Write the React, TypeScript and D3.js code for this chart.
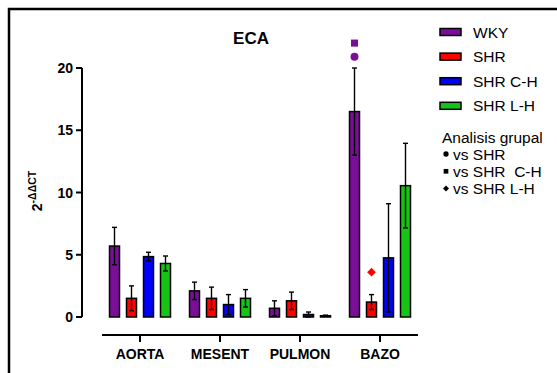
import React from "react"
import * as d3 from "d3"

const categories = ["AORTA", "MESENT", "PULMON", "BAZO"]
const series = ["WKY", "SHR", "SHR C-H", "SHR L-H"]
const colors = ["#7a0f97", "#ff0000", "#0000ff", "#17c317"]
// media y error (sem) por serie, en el orden de categories
const means = [
  [5.7, 2.1, 0.7, 16.5],
  [1.5, 1.5, 1.3, 1.2],
  [4.85, 1.0, 0.2, 4.75],
  [4.3, 1.5, 0.1, 10.55],
]
const errors = [
  [1.5, 0.7, 0.6, 3.5],
  [1.0, 0.9, 0.7, 0.6],
  [0.35, 0.8, 0.2, 4.35],
  [0.6, 0.7, 0.05, 3.4],
]
const yTicks = [0, 5, 10, 15, 20]
const statLegend = [
  { sym: "circle", label: "vs SHR" },
  { sym: "square", label: "vs SHR  C-H" },
  { sym: "diamond", label: "vs SHR L-H" },
]
// marcas de significancia sobre BAZO
const marks = [
  { cat: "BAZO", s: 0, sym: "square", value: 22 },
  { cat: "BAZO", s: 0, sym: "circle", value: 20.9 },
  { cat: "BAZO", s: 1, sym: "diamond", value: 3.6 },
]

const FONT = "'Liberation Sans', Arial, sans-serif"

// el rombo es un cuadrado girado 45 grados
const symbolPath = (name: string, size: number) =>
  d3.symbol(name === "circle" ? d3.symbolCircle : d3.symbolSquare, size)() ?? ""
const symbolRot = (name: string) => (name === "diamond" ? " rotate(45)" : "")

export default function App() {
  const y = d3.scaleLinear().domain([0, 20]).range([317, 68])
  const x0 = d3.scaleBand().domain(categories).range([100, 420])
  const x1 = d3.scaleBand().domain(series).range([9.5, 70.5]).paddingInner(7 / 17).paddingOuter(0)
  const bw = x1.bandwidth()

  return (
    <svg width={557} height={373} style={{ position: "absolute", left: 0, top: 0, background: "#fff" }} fontFamily={FONT}>
      {/* marco */}
      <path d="M9,373 V9 H557" fill="none" stroke="#000" strokeWidth={2.5} />

      <text x={251} y={44} textAnchor="middle" fontWeight="bold" fontSize={17}>ECA</text>

      {/* eje y */}
      <line x1={82} x2={82} y1={y(20)} y2={y(0)} stroke="#000" strokeWidth={2} />
      {yTicks.map((t) => (
        <g key={t} transform={`translate(0,${y(t)})`}>
          <line x1={76} x2={82} stroke="#000" strokeWidth={2} />
          <text x={73} dy="0.36em" textAnchor="end" fontWeight="bold" fontSize={14}>{t}</text>
        </g>
      ))}
      <text transform="translate(42,191) rotate(-90)" textAnchor="middle" fontWeight="bold" fontSize={14}>
        2<tspan fontSize={10.5} dy={-6}>-ΔΔCT</tspan>
      </text>

      {/* eje x */}
      <line x1={102} x2={418} y1={335} y2={335} stroke="#000" strokeWidth={2} />
      {categories.map((c) => {
        const cx = (x0(c) ?? 0) + x0.bandwidth() / 2
        return (
          <g key={c}>
            <line x1={cx} x2={cx} y1={335} y2={342} stroke="#000" strokeWidth={2} />
            <text x={cx} y={359} textAnchor="middle" fontWeight="bold" fontSize={14}>{c}</text>
          </g>
        )
      })}

      {/* barras */}
      {series.map((s, si) =>
        categories.map((c, ci) => {
          const bx = (x0(c) ?? 0) + (x1(s) ?? 0)
          const v = means[si][ci]
          const e = errors[si][ci]
          const cx = bx + bw / 2
          const lo = Math.max(0, v - e)
          return (
            <g key={s + c}>
              <rect x={bx} y={y(v)} width={bw} height={y(0) - y(v)} fill={colors[si]} stroke="#000" strokeWidth={1.5} />
              <line x1={cx} x2={cx} y1={y(v + e)} y2={y(lo)} stroke="#000" strokeWidth={1.4} />
              <line x1={cx - 2.5} x2={cx + 2.5} y1={y(v + e)} y2={y(v + e)} stroke="#000" strokeWidth={1.4} />
              <line x1={cx - 2.5} x2={cx + 2.5} y1={y(lo)} y2={y(lo)} stroke="#000" strokeWidth={1.4} />
            </g>
          )
        })
      )}

      {/* marcas de significancia */}
      {marks.map((m, i) => {
        const cx = (x0(m.cat) ?? 0) + (x1(series[m.s]) ?? 0) + bw / 2
        return (
          <path
            key={i}
            transform={`translate(${cx},${y(m.value)})${symbolRot(m.sym)}`}
            d={symbolPath(m.sym, m.sym === "diamond" ? 38 : 50)}
            fill={colors[m.s]}
          />
        )
      })}

      {/* leyenda */}
      {series.map((s, i) => (
        <g key={s} transform={`translate(440,${32 + i * 24.6})`}>
          <rect x={0} y={-3.5} width={21} height={7} fill={colors[i]} stroke="#000" strokeWidth={1.5} />
          <text x={33} dy="0.36em" fontSize={15.5}>{s}</text>
        </g>
      ))}
      <text x={442} y={143} fontSize={15.5}>Analisis grupal</text>
      {statLegend.map((d, i) => (
        <g key={d.label} transform={`translate(446,${154 + i * 17.3})`}>
          <path
            transform={symbolRot(d.sym).trim()}
            d={symbolPath(d.sym, d.sym === "diamond" ? 18 : 22)}
            fill="#000"
          />
          <text x={7} dy="0.36em" fontSize={15.5} style={{ whiteSpace: "pre" }}>{d.label}</text>
        </g>
      ))}
    </svg>
  )
}
